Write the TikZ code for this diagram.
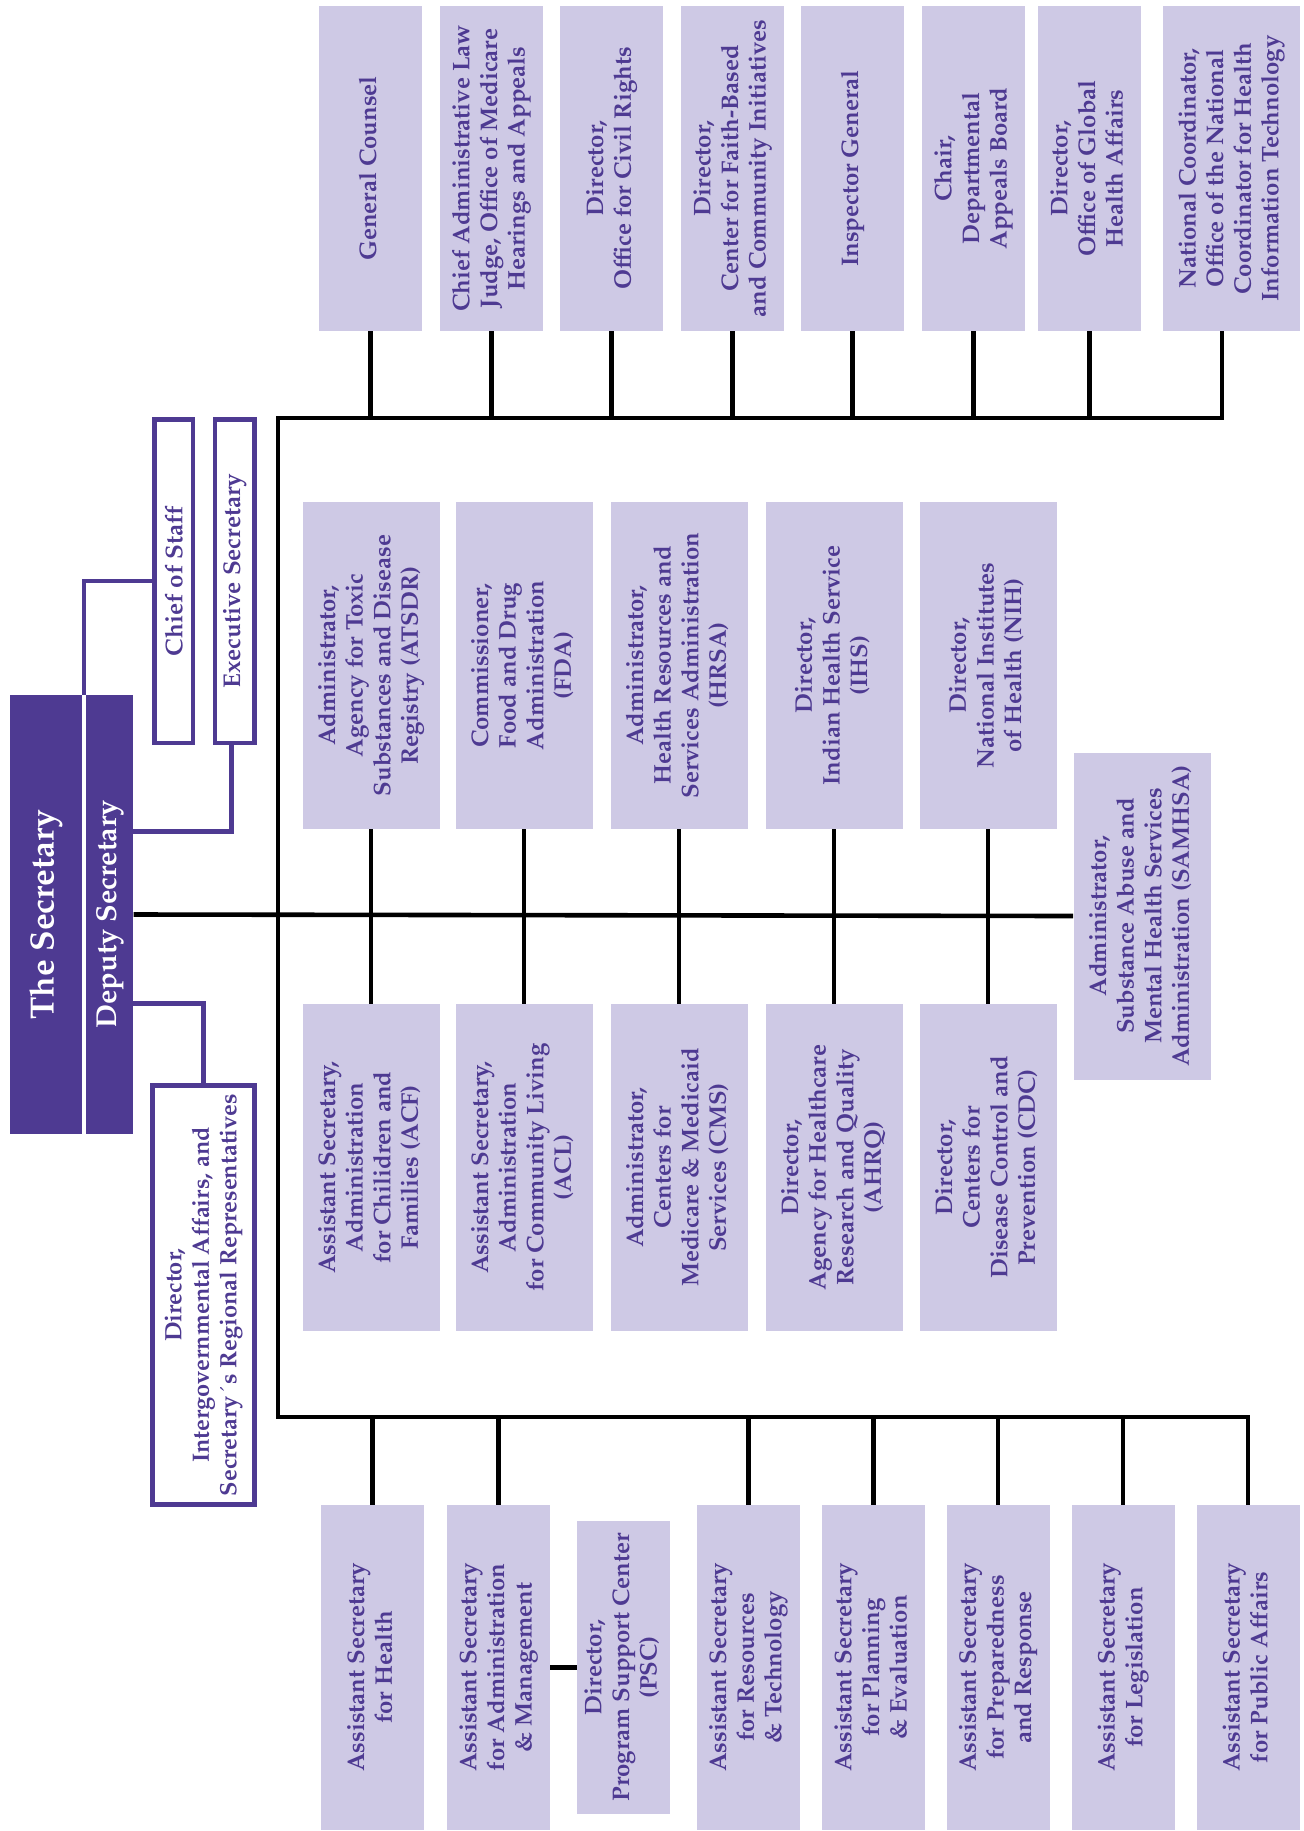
\documentclass[tikz,border=0pt]{standalone}
\usepackage[T1]{fontenc}
\usepackage{mathpazo}
\usepackage{graphicx}

\definecolor{hhsdark}{RGB}{78,58,146}
\definecolor{hhslight}{RGB}{206,201,229}

% rotated, centred multi-line label
\newcommand{\vtext}[1]{\rotatebox{90}{\begin{tabular}{@{}c@{}}#1\end{tabular}}}

\tikzset{
    unitbox/.style={fill=hhslight, text=hhsdark, inner sep=0pt,
        font=\fontsize{12}{13.8}\selectfont\bfseries},
    narrowbox/.style={unitbox, minimum width=51.5pt, minimum height=162.5pt},
    agencybox/.style={unitbox, minimum width=68.5pt, minimum height=163.5pt},
    headbox/.style={fill=hhsdark, text=white, inner sep=0pt, minimum height=219.5pt},
    staffbox/.style={draw=hhsdark, line width=2.25pt, fill=white, text=hhsdark, inner sep=0pt},
    orgline/.style={line width=2.3pt, black},
    staffline/.style={line width=2.25pt, hhsdark},
}

\begin{document}
\begin{tikzpicture}[x=0.5pt, y=-0.5pt]
    \useasboundingbox (0,0) rectangle (1303,1831);

    % the secretary and the immediate office
    \node[headbox, minimum width=35.85pt, font=\fontsize{16.8}{20}\selectfont\bfseries] (sec) at (45.85,914.5) {\rotatebox{90}{The Secretary}};
    \node[headbox, minimum width=23.65pt, font=\fontsize{14.4}{17}\selectfont\bfseries] (dep) at (109.65,914.5) {\rotatebox{90}{Deputy Secretary}};
    \node[staffbox, minimum width=19.1pt, minimum height=161.75pt, font=\fontsize{12.1}{15}\selectfont\bfseries] (cos) at (173.65,581) {\rotatebox{90}{Chief of Staff}};
    \node[staffbox, minimum width=19.75pt, minimum height=161.75pt, font=\fontsize{12.1}{15}\selectfont\bfseries] (exs) at (234.7,581) {\rotatebox{90}{Executive Secretary}};
    \node[staffbox, minimum width=51.1pt, minimum height=209.45pt, font=\fontsize{11.8}{13.8}\selectfont\bfseries] (iga) at (203.35,1295) {\vtext{Director,\\Intergovernmental Affairs, and\\Secretary\textasciiacute s Regional Representatives}};

    % staff offices, top row
    \node[narrowbox] (gc) at (370.5,168.5) {\vtext{General Counsel}};
    \node[narrowbox] (calj) at (491.5,168.5) {\vtext{Chief Administrative Law\\Judge, Office of Medicare\\Hearings and Appeals}};
    \node[narrowbox] (ocr) at (611.5,168.5) {\vtext{Director,\\Office for Civil Rights}};
    \node[narrowbox] (cfbci) at (732.5,168.5) {\vtext{Director,\\Center for Faith-Based\\and Community Initiatives}};
    \node[narrowbox] (ig) at (852.5,168.5) {\vtext{Inspector General}};
    \node[narrowbox] (dab) at (973.5,168.5) {\vtext{Chair,\\Departmental\\Appeals Board}};
    \node[narrowbox] (ogha) at (1089.5,168.5) {\vtext{Director,\\Office of Global\\Health Affairs}};
    \node[agencybox, minimum height=162.5pt] (onc) at (1231.5,168.5) {\vtext{National Coordinator,\\Office of the National\\Coordinator for Health\\Information Technology}};

    % operating divisions above the line
    \node[agencybox] (atsdr) at (371,665.5) {\vtext{Administrator,\\Agency for Toxic\\Substances and Disease\\Registry (ATSDR)}};
    \node[agencybox] (fda) at (524,665.5) {\vtext{Commissioner,\\Food and Drug\\Administration\\(FDA)}};
    \node[agencybox] (hrsa) at (679,665.5) {\vtext{Administrator,\\Health Resources and\\Services Administration\\(HRSA)}};
    \node[agencybox] (ihs) at (834,665.5) {\vtext{Director,\\Indian Health Service\\(IHS)}};
    \node[agencybox] (nih) at (988,665.5) {\vtext{Director,\\National Institutes\\of Health (NIH)}};

    % operating divisions below the line
    \node[agencybox] (acf) at (371,1167.5) {\vtext{Assistant Secretary,\\Administration\\for Chilidren and\\Families (ACF)}};
    \node[agencybox] (acl) at (524,1167.5) {\vtext{Assistant Secretary,\\Administration\\for Community Living\\(ACL)}};
    \node[agencybox] (cms) at (679,1167.5) {\vtext{Administrator,\\Centers for\\Medicare \& Medicaid\\Services (CMS)}};
    \node[agencybox] (ahrq) at (834,1167.5) {\vtext{Director,\\Agency for Healthcare\\Research and Quality\\(AHRQ)}};
    \node[agencybox] (cdc) at (988,1167.5) {\vtext{Director,\\Centers for\\Disease Control and\\Prevention (CDC)}};
    \node[agencybox] (samhsa) at (1142,916) {\vtext{Administrator,\\Substance Abuse and\\Mental Health Services\\Administration (SAMHSA)}};

    % staff offices, bottom row
    \node[narrowbox] (ash) at (372.5,1667.5) {\vtext{Assistant Secretary\\for Health}};
    \node[narrowbox] (asa) at (498.5,1667.5) {\vtext{Assistant Secretary\\for Administration\\\& Management}};
    \node[unitbox, minimum width=46.5pt, minimum height=146.5pt] (psc) at (623.5,1667.5) {\vtext{Director,\\Program Support Center\\(PSC)}};
    \node[narrowbox] (asrt) at (748.3,1667.5) {\vtext{Assistant Secretary\\for Resources\\\& Technology}};
    \node[narrowbox] (aspe) at (873.5,1667.5) {\vtext{Assistant Secretary\\for Planning\\\& Evaluation}};
    \node[narrowbox] (aspr) at (998,1667.5) {\vtext{Assistant Secretary\\for Preparedness\\and Response}};
    \node[narrowbox] (asl) at (1123,1667.5) {\vtext{Assistant Secretary\\for Legislation}};
    \node[narrowbox] (aspa) at (1248,1667.5) {\vtext{Assistant Secretary\\for Public Affairs}};

    % bus corners and free line ends
    \coordinate (topbus) at (278,418);
    \coordinate (botbus) at (278,1417);
    \coordinate (oncfoot) at (1222,331);
    \coordinate (secgap) at (84,695);
    \coordinate (exsfoot) at (133.3,831.5);
    \coordinate (igafoot) at (133.3,1003.5);

    % reporting lines
    \draw[orgline] (oncfoot) |- (topbus) -- (botbus) -| (aspa.north);
    \foreach \n in {gc,calj,ocr,cfbci,ig,dab,ogha}
        \draw[orgline] (\n.south) -- (\n.south |- topbus);
    \foreach \n in {ash,asa,asrt,aspe,aspr,asl}
        \draw[orgline] (\n.north) -- (\n.north |- botbus);
    \foreach \u/\l in {atsdr/acf,fda/acl,hrsa/cms,ihs/ahrq,nih/cdc}
        \draw[orgline] (\u.south) -- (\l.north);
    \draw[orgline] (dep.east) -- (samhsa.west);
    \draw[orgline] (asa.east) -- (psc.west);

    % immediate office lines
    \draw[staffline] (cos.west) -| (secgap);
    \draw[staffline] ([xshift=-1.7pt]exs.south) |- (exsfoot);
    \draw[staffline] (iga.north) |- (igafoot);
\end{tikzpicture}
\end{document}
